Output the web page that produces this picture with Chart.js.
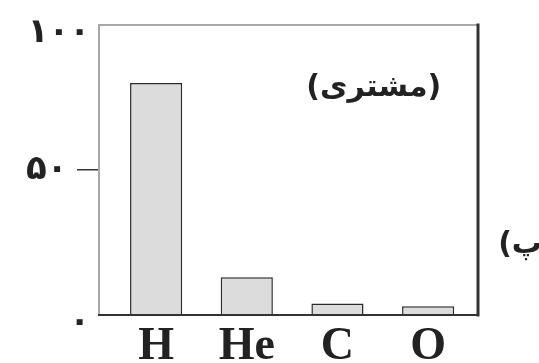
<!DOCTYPE html>
<html>
<head>
<meta charset="utf-8">
<script src="https://cdn.jsdelivr.net/npm/chart.js@4"></script>
<style>
  html, body { margin: 0; padding: 0; background: #fff; }
  #wrap { width: 539px; height: 363px; }
</style>
</head>
<body>
<div id="wrap"><canvas id="myChart" width="539" height="363"></canvas></div>
<script>
var elements = ["H", "He", "C", "O"];
var percents = [80, 13, 4, 3];
var yTickValues = [0, 50, 100];
var yTickLabels = ["۰", "۵۰", "۱۰۰"];
var chartTitle = "(مشتری)";
var partLabel = "پ)";

function persian(v) {
  var i = yTickValues.indexOf(v);
  return i >= 0 ? yTickLabels[i] : "";
}

var points = elements.map(function (e, i) { return { x: i, y: percents[i] }; });

// frame + texts inside/outside the box
var framePlugin = {
  id: "frame",
  afterDatasetsDraw: function (chart) {
    var a = chart.chartArea, ctx = chart.ctx;
    ctx.save();
    ctx.lineCap = "square";
    ctx.strokeStyle = "#a8a8a8";
    ctx.lineWidth = 2;
    ctx.beginPath();
    ctx.moveTo(a.left, a.bottom);
    ctx.lineTo(a.left, a.top);
    ctx.lineTo(a.right, a.top);
    ctx.stroke();
    ctx.strokeStyle = "#333";
    ctx.lineWidth = 3;
    ctx.beginPath();
    ctx.moveTo(a.right, a.top);
    ctx.lineTo(a.right, a.bottom);
    ctx.stroke();
    ctx.lineWidth = 2;
    ctx.beginPath();
    ctx.moveTo(a.left, a.bottom);
    ctx.lineTo(a.right, a.bottom);
    ctx.stroke();

    ctx.fillStyle = "#222";
    ctx.font = "bold 30px 'DejaVu Sans'";
    ctx.textBaseline = "middle";
    ctx.direction = "rtl";
    ctx.textAlign = "center";
    ctx.fillText(chartTitle, a.left + (a.right - a.left) * 0.725, a.top + 63);
    ctx.textAlign = "right";
    ctx.fillText(partLabel, chart.width + 3, a.top + 220);
    ctx.restore();
  }
};

function noPad(s) {
  s.paddingTop = 0;
  s.paddingBottom = 0;
}

new Chart("myChart", {
  type: "bar",
  data: {
    datasets: [{
      data: points,
      backgroundColor: "#dcdcdc",
      borderColor: "#2a2a2a",
      borderWidth: 1.5,
      barPercentage: 0.575,
      categoryPercentage: 1,
      yAxisID: "y"
    }]
  },
  options: {
    responsive: false,
    animation: false,
    layout: { padding: { top: 25, right: 61, left: 0, bottom: 0 } },
    plugins: {
      legend: { display: false },
      tooltip: { enabled: false }
    },
    scales: {
      x: {
        type: "linear",
        offset: false,
        min: -0.63,
        max: 3.55,
        afterBuildTicks: function (s) {
          s.ticks = elements.map(function (e, i) { return { value: i }; });
        },
        grid: { display: false, drawTicks: false, offset: false },
        border: { display: false },
        ticks: {
          padding: 5,
          color: "#222",
          font: { family: "'Liberation Serif'", size: 46, weight: "bold" },
          callback: function (v) { return elements[v]; }
        },
        afterFit: function (s) { s.height = 48; s.paddingLeft = 0; s.paddingRight = 0; }
      },
      y: {
        position: "left",
        weight: 1,
        min: 0,
        max: 100,
        afterBuildTicks: function (s) {
          s.ticks = [{ value: yTickValues[0] }, { value: yTickValues[2] }];
        },
        grid: { display: false, drawTicks: false },
        border: { display: false },
        ticks: {
          padding: 9,
          labelOffset: 8,
          color: "#222",
          font: { family: "'DejaVu Sans'", size: 34, weight: "bold" },
          callback: function (v) { return persian(v); }
        },
        afterFit: function (s) { s.width = 99; noPad(s); }
      },
      y2: {
        position: "left",
        weight: 0,
        min: 0,
        max: 100,
        afterBuildTicks: function (s) {
          s.ticks = [{ value: yTickValues[1] }];
        },
        grid: { drawOnChartArea: false, drawTicks: true, tickLength: 22, color: "#333", lineWidth: 1.5 },
        border: { display: false },
        ticks: {
          mirror: true,
          padding: -73,
          color: "#222",
          font: { family: "'DejaVu Sans'", size: 34, weight: "bold" },
          callback: function (v) { return persian(v); }
        },
        afterFit: function (s) { s.width = 0; noPad(s); }
      }
    }
  },
  plugins: [framePlugin]
});
</script>
</body>
</html>
